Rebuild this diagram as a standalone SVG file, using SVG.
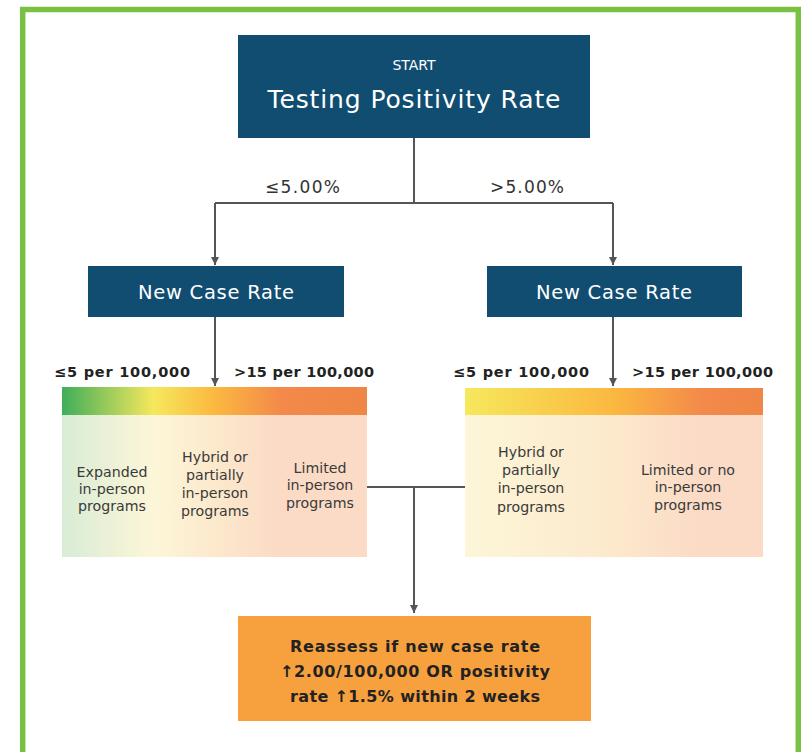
<svg xmlns="http://www.w3.org/2000/svg" width="801" height="752" viewBox="0 0 801 752">
<style>
.navy{fill:#114d70}
.wt{fill:#ffffff;font-family:"DejaVu Sans","Liberation Sans",sans-serif;text-anchor:middle}
.lbl{fill:#333333;font-family:"DejaVu Sans","Liberation Sans",sans-serif;font-size:17px}
.bl{fill:#222222;font-family:"DejaVu Sans","Liberation Sans",sans-serif;font-size:14.5px;font-weight:700}
.bt{fill:#3a3a3a;font-family:"DejaVu Sans","Liberation Sans",sans-serif;font-size:14.2px;text-anchor:middle}
.rt{fill:#222222;font-family:"DejaVu Sans","Liberation Sans",sans-serif;font-size:16px;font-weight:700;text-anchor:middle}
.ln{fill:none;stroke:#555555;stroke-width:2}
</style>
<defs>
<marker id="ah" viewBox="0 0 10 10" refX="10" refY="5" markerWidth="4" markerHeight="4" orient="auto" markerUnits="strokeWidth">
<path d="M0,0 L10,5 L0,10 z" fill="#555555"/>
</marker>
<linearGradient id="barL" x1="0" y1="0" x2="1" y2="0">
<stop offset="0" stop-color="#3fae5a"/>
<stop offset="0.3" stop-color="#f6e85c"/>
<stop offset="0.5" stop-color="#fbb840"/>
<stop offset="0.72" stop-color="#f3894a"/>
<stop offset="1" stop-color="#f08645"/>
</linearGradient>
<linearGradient id="bodyL" x1="0" y1="0" x2="1" y2="0">
<stop offset="0" stop-color="#d8ecd5"/>
<stop offset="0.3" stop-color="#fdf6d8"/>
<stop offset="0.5" stop-color="#fce9cc"/>
<stop offset="0.72" stop-color="#fbdac6"/>
<stop offset="1" stop-color="#fbdac6"/>
</linearGradient>
<linearGradient id="barR" x1="0" y1="0" x2="1" y2="0">
<stop offset="0" stop-color="#f6e85c"/>
<stop offset="0.5" stop-color="#fbb840"/>
<stop offset="0.8" stop-color="#f3894a"/>
<stop offset="1" stop-color="#f08645"/>
</linearGradient>
<linearGradient id="bodyR" x1="0" y1="0" x2="1" y2="0">
<stop offset="0" stop-color="#fdf6d8"/>
<stop offset="0.5" stop-color="#fce9cc"/>
<stop offset="0.8" stop-color="#fbdac6"/>
<stop offset="1" stop-color="#fbdac6"/>
</linearGradient>
</defs>
<rect x="0" y="0" width="801" height="752" fill="#ffffff"/>
<rect x="22.7" y="9.5" width="775.6" height="760" fill="none" stroke="#7ac143" stroke-width="5.5"/>

<g id="connectors">
<path class="ln" d="M414,138 V203"/>
<path class="ln" d="M215,203 H613"/>
<path class="ln" d="M215,203 V265" marker-end="url(#ah)"/>
<path class="ln" d="M613,203 V265" marker-end="url(#ah)"/>
<path class="ln" d="M215,317 V386" marker-end="url(#ah)"/>
<path class="ln" d="M613,317 V386" marker-end="url(#ah)"/>
<path class="ln" d="M367,487 H465"/>
<path class="ln" d="M414,487 V613" marker-end="url(#ah)"/>
<text class="lbl" x="265" y="193" textLength="75">≤5.00%</text>
<text class="lbl" x="490" y="193" textLength="74">&gt;5.00%</text>
</g>

<g id="start">
<rect class="navy" x="238" y="35" width="352" height="103"/>
<text class="wt" x="414" y="70" font-size="14">START</text>
<text class="wt" x="414" y="108" font-size="25" textLength="293">Testing Positivity Rate</text>
</g>

<g id="ncr-left">
<rect class="navy" x="88" y="266" width="256" height="51"/>
<text class="wt" x="216" y="299" font-size="19.5" textLength="156">New Case Rate</text>
</g>

<g id="ncr-right">
<rect class="navy" x="487" y="266" width="255" height="51"/>
<text class="wt" x="614" y="299" font-size="19.5" textLength="156">New Case Rate</text>
</g>

<g id="scale-left">
<text class="bl" x="54" y="377" textLength="136">≤5 per 100,000</text>
<text class="bl" x="234" y="377" textLength="140">&gt;15 per 100,000</text>
<rect x="62" y="387" width="305" height="170" fill="url(#bodyL)"/>
<rect x="62" y="387" width="305" height="28" fill="url(#barL)"/>
<text class="bt" x="112"><tspan x="112" y="477">Expanded</tspan><tspan x="112" y="494">in-person</tspan><tspan x="112" y="511">programs</tspan></text>
<text class="bt" x="215"><tspan x="215" y="462">Hybrid or</tspan><tspan x="215" y="480">partially</tspan><tspan x="215" y="498">in-person</tspan><tspan x="215" y="516">programs</tspan></text>
<text class="bt" x="320"><tspan x="320" y="473">Limited</tspan><tspan x="320" y="490">in-person</tspan><tspan x="320" y="508">programs</tspan></text>
</g>

<g id="scale-right">
<text class="bl" x="453" y="377" textLength="136">≤5 per 100,000</text>
<text class="bl" x="632" y="377" textLength="141">&gt;15 per 100,000</text>
<rect x="465" y="388" width="298" height="169" fill="url(#bodyR)"/>
<rect x="465" y="388" width="298" height="27" fill="url(#barR)"/>
<text class="bt" x="531"><tspan x="531" y="457">Hybrid or</tspan><tspan x="531" y="475">partially</tspan><tspan x="531" y="493">in-person</tspan><tspan x="531" y="512">programs</tspan></text>
<text class="bt" x="688"><tspan x="688" y="475">Limited or no</tspan><tspan x="688" y="492">in-person</tspan><tspan x="688" y="510">programs</tspan></text>
</g>

<g id="reassess">
<rect x="238" y="616" width="353" height="105" fill="#f6a03e"/>
<text class="rt" x="415" y="652" textLength="250">Reassess if new case rate</text>
<text class="rt" x="415" y="677" textLength="270">↑2.00/100,000 OR positivity</text>
<text class="rt" x="415" y="702" textLength="250">rate ↑1.5% within 2 weeks</text>
</g>
</svg>
